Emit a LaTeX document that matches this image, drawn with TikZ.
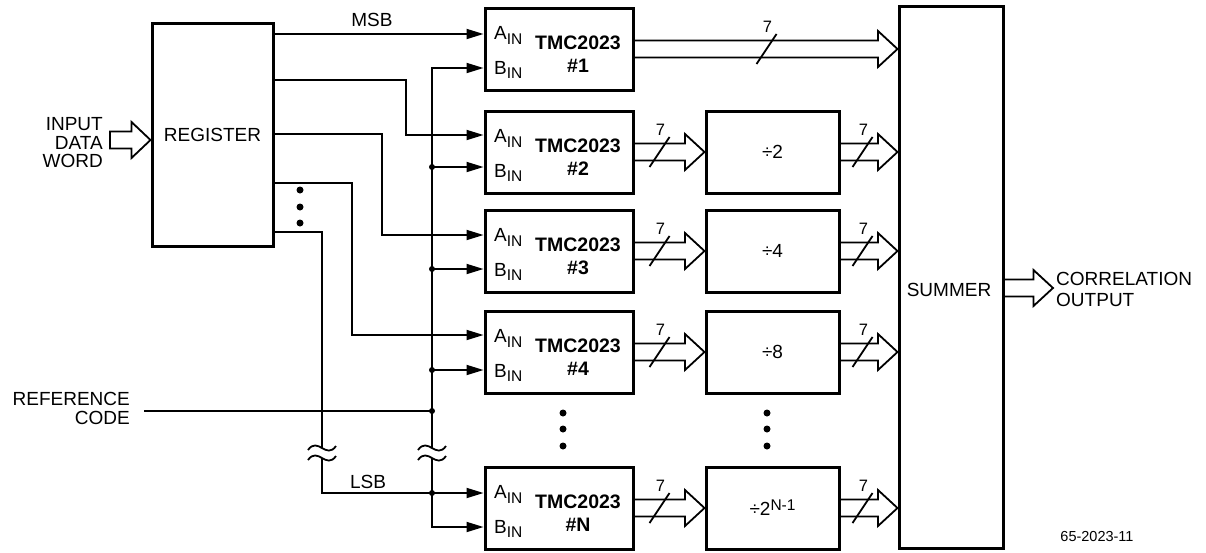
\documentclass[tikz,border=0pt]{standalone}
\usepackage{fontspec}
\setmainfont{Liberation Sans}
\usetikzlibrary{arrows.meta,calc}
\newcommand\sub[1]{\raisebox{-4.5pt}{\fontsize{15.5}{15.5}\selectfont #1}}
\newcommand\busarr[2]{%
  \draw[bus] let \p1=(#1), \p2=(#2) in
    (\x1,\y1+8.5pt) -- (\x2-19.5pt,\y1+8.5pt) -- (\x2-19.5pt,\y1+18pt) -- (\x2,\y1)
    -- (\x2-19.5pt,\y1-18pt) -- (\x2-19.5pt,\y1-8.5pt) -- (\x1,\y1-8.5pt);}
\newcommand\bslash[2]{%
  \draw[sig] ($(#1)+(#2-10,15)$) -- ($(#1)+(#2+10,-15)$);
  \node[small] at ($(#1)+(#2+1,-22)$) {7};}
\newcommand\brk[1]{%
  \draw[sig] ($(#1)+(-14,2)$) .. controls ($(#1)+(-4,-12)$) and ($(#1)+(4,12)$) .. ($(#1)+(14,-2)$);}
\newcommand\tmcbox[3]{%
  \node[blk] (#1) at (559,#2+41) {};
  \node[anchor=base west] (#1a) at (494,#2+31.5) {A\sub{IN}};
  \node[anchor=base west] (#1b) at (494,#2+66) {B\sub{IN}};
  \node[anchor=base, bld] (#1n) at (578,#2+41.5) {TMC2023};
  \node[anchor=base, bld] (#1m) at (578,#2+64.5) {\##3};}
\newcommand\divbox[3]{\node[blk, minimum width=133pt] (#1) at (772.5,#2+41) {#3};}
\begin{document}
\begin{tikzpicture}[x=1pt,y=-1pt,
  every node/.style={inner sep=0pt, font=\fontsize{19}{19}\selectfont},
  blk/.style={draw, line width=3pt, rectangle, minimum width=148pt, minimum height=82pt},
  bld/.style={font=\bfseries\fontsize{19.5}{19.5}\selectfont},
  small/.style={font=\fontsize{16.5}{16.5}\selectfont},
  sig/.style={line width=1.8pt},
  arr/.style={sig, -{Triangle[length=17pt,width=10pt]}},
  bus/.style={line width=1.8pt, line join=miter},
  jdot/.style={circle, fill, minimum size=6pt, inner sep=0pt},
  edot/.style={circle, fill, minimum size=7pt, inner sep=0pt},
]
\useasboundingbox (0,0) rectangle (1206,552);

% register
\node[blk, minimum width=121pt, minimum height=223pt] (reg) at (212.5,134.5) {REGISTER};
\node[anchor=east, align=right, font=\fontsize{19}{18.5}\selectfont] (inl) at (103,143) {INPUT\\DATA\\WORD};
\coordinate (inp) at (110,140);
\draw[bus] let \p1=(inp), \p2=(inp -| reg.west) in
  (\x1,\y1+8.5pt) -- (\x2-19pt,\y1+8.5pt) -- (\x2-19pt,\y1+18pt) -- (\x2,\y1)
  -- (\x2-19pt,\y1-18pt) -- (\x2-19pt,\y1-8.5pt) -- (\x1,\y1-8.5pt) -- cycle;

% TMC boxes
\tmcbox{t1}{8}{1}
\tmcbox{t2}{111}{2}
\tmcbox{t3}{210}{3}
\tmcbox{t4}{311}{4}
\tmcbox{tn}{467}{N}

% dividers
\divbox{d2}{111}{÷2}
\divbox{d3}{210}{÷4}
\divbox{d4}{311}{÷8}
\divbox{dn}{467}{÷2\raisebox{5pt}{\fontsize{15.5}{15.5}\selectfont N-1}}

% summer
\node[draw, line width=3pt, minimum width=104pt, minimum height=542pt] (sum) at (951,277) {};
\node (sumt) at (949,290) {SUMMER};
\node[anchor=west, align=left, font=\fontsize{19}{21}\selectfont] (corr) at (1056,289.5) {CORRELATION\\OUTPUT};
\coordinate (otip) at (1053,288);
\busarr{sum.east |- 0,288}{otip}

% ellipsis dots
\foreach \y in {190,207,223} \node[edot] at (300,\y) {};
\foreach \y in {413,429,446} {\node[edot] at (563,\y) {}; \node[edot] at (767,\y) {};}

% register outputs
\node (msb) at (372,20) {MSB};
\draw[arr] (reg.east |- 0,34) -- (t1.west |- 0,34);
\draw[arr] (reg.east |- 0,80) -| (406,135) -- (t2.west |- 0,135);
\draw[arr] (reg.east |- 0,134) -| (382,235) -- (t3.west |- 0,235);
\draw[arr] (reg.east |- 0,183) -| (352,335) -- (t4.west |- 0,335);
\draw[sig] (reg.east |- 0,232) -| (322,448);
\brk{322,448} \brk{322,458}
\node (lsb) at (368,482) {LSB};
\draw[arr] (322,458) -- (322,493) -- (tn.west |- 0,493);

% reference bus
\node[anchor=east, align=right, font=\fontsize{19}{19}\selectfont] (refc) at (130,408) {REFERENCE\\CODE};
\draw[sig] (144,411) -- (432,411);
\draw[arr] (432,448) -- (432,68) -- (t1.west |- 0,68);
\draw[arr] (432,458) -- (432,527) -- (tn.west |- 0,527);
\brk{432,448} \brk{432,458}
\draw[arr] (432,167) -- (t2.west |- 0,167);
\draw[arr] (432,269) -- (t3.west |- 0,269);
\draw[arr] (432,370) -- (t4.west |- 0,370);
\foreach \y in {167,269,370,411,493} \node[jdot] at (432,\y) {};

% wide buses
\busarr{t1.east}{t1.east -| sum.west} \bslash{t1.east}{132}
\foreach \a/\b in {t2/d2,t3/d3,t4/d4,tn/dn} {
  \busarr{\a.east}{\a.east -| \b.west} \bslash{\a.east}{25}
  \busarr{\b.east}{\b.east -| sum.west} \bslash{\b.east}{22}
}

\node[font=\fontsize{14.5}{14.5}\selectfont] (fig) at (1097,536) {65-2023-11};
\end{tikzpicture}
\end{document}
